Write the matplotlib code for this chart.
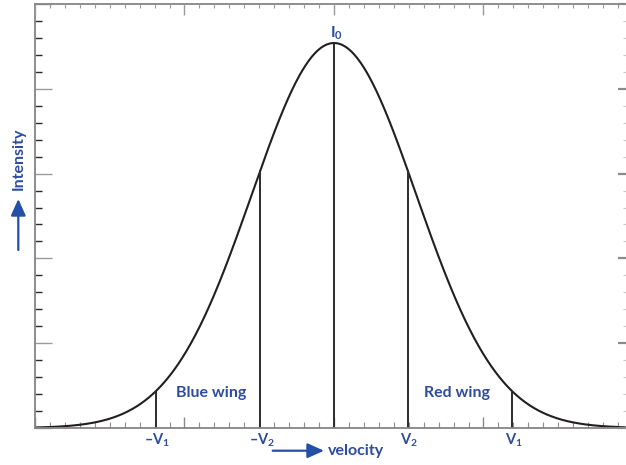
import numpy as np
import matplotlib
matplotlib.use("Agg")
import matplotlib.pyplot as plt
from matplotlib.ticker import MultipleLocator

# ---------------- data ----------------
peak_intensity = 22.7          # I0, in minor-tick units of the intensity axis
profile_sigma = 5.5            # Gaussian width of the line profile
line_center = 0.0              # rest velocity
marker_velocities = [-11.93, -4.93, 4.93, 11.93]
marker_labels = [r"$\mathrm{–V}_1$", r"$\mathrm{–V}_2$", r"$\mathrm{V}_2$", r"$\mathrm{V}_1$"]
wing_labels = ["Blue wing", "Red wing"]
wing_label_x = [-8.2, 8.25]
wing_label_y = [2.06, 2.06]
peak_label = r"$\mathrm{I}_0$"
x_label = "velocity"
y_label = "Intensity"
x_limits = (-20, 19.5)
y_limits = (0, 25)

# ---------------- style ----------------
BLUE = "#2d4c9c"
ARROW_BLUE = "#2350a6"
INK = "#231f20"
SPINE = "#858585"

plt.rcParams["font.family"] = ["Lato", "DejaVu Sans"]
plt.rcParams["font.weight"] = "bold"
plt.rcParams["mathtext.fontset"] = "custom"
plt.rcParams["mathtext.rm"] = "Lato:bold"
plt.rcParams["mathtext.it"] = "Lato:bold"
plt.rcParams["mathtext.bf"] = "Lato:bold"

W, H = 626, 465
fig = plt.figure(figsize=(W / 100, H / 100), dpi=100)
ax = fig.add_axes([35 / W, 1 - 428 / H, (625.5 - 35) / W, (428 - 4) / H])


def profile(v):
    v = np.asarray(v, dtype=float)
    return peak_intensity * np.exp(-0.5 * ((v - line_center) / profile_sigma) ** 2)


v = np.linspace(x_limits[0], x_limits[1], 800)
ax.plot(v, profile(v), color=INK, lw=1.5, solid_capstyle="butt")
ax.vlines(marker_velocities, 0, profile(marker_velocities), color="#2b2b2b", lw=1.4)
ax.vlines([line_center], 0, profile([line_center]), color="#2b2b2b", lw=1.4)

ax.set_xlim(*x_limits)
ax.set_ylim(*y_limits)

# spines
for s in ["left", "bottom", "top"]:
    ax.spines[s].set_color(SPINE)
    ax.spines[s].set_linewidth(1.3)
ax.spines["right"].set_visible(False)

# bottom / left ticks
ax.xaxis.set_major_locator(MultipleLocator(10))
ax.xaxis.set_minor_locator(MultipleLocator(1))
ax.yaxis.set_major_locator(MultipleLocator(5))
ax.yaxis.set_minor_locator(MultipleLocator(1))
ax.tick_params(axis="x", which="major", direction="in", length=8, width=1.0, color="#8a8a8a",
               labelbottom=False, top=False)
ax.tick_params(axis="x", which="minor", direction="in", length=4, width=0.8, color="#8f8f8f", top=False)
ax.tick_params(axis="y", which="major", direction="in", length=12, width=1.0, color="#9a9a9a",
               labelleft=False, right=False)
ax.tick_params(axis="y", which="minor", direction="in", length=5, width=1.0, color="#2a2a2a", right=False)

# top ticks
axt = ax.twiny()
axt.set_xlim(*x_limits)
axt.xaxis.set_major_locator(MultipleLocator(10))
axt.xaxis.set_minor_locator(MultipleLocator(1))
axt.tick_params(axis="x", which="major", direction="in", length=8, width=1.0, color="#9a9a9a",
                labeltop=False)
axt.tick_params(axis="x", which="minor", direction="in", length=3, width=0.8, color="#9a9a9a")
for s in axt.spines.values():
    s.set_visible(False)

# right ticks
axr = ax.twinx()
axr.set_ylim(*y_limits)
axr.yaxis.set_major_locator(MultipleLocator(5))
axr.yaxis.set_minor_locator(MultipleLocator(1))
axr.tick_params(axis="y", which="major", direction="in", length=6, width=1.6, color="#8a8a8a",
                labelright=False)
axr.tick_params(axis="y", which="minor", direction="in", length=2, width=0.8, color="#c8c8c8")
for s in axr.spines.values():
    s.set_visible(False)

# labels in plot
for lab, x, y in zip(wing_labels, wing_label_x, wing_label_y):
    ax.text(x, y, lab, color=BLUE, fontsize=11.5, fontweight="bold", ha="center", va="center")

for lab, x in zip(marker_labels, marker_velocities):
    ax.annotate(lab, xy=(x, 0), xycoords=("data", "axes fraction"), xytext=(1, -12.3),
                textcoords="offset points", ha="center", va="baseline", color=BLUE, fontsize=10.5)

ax.annotate(peak_label, xy=(line_center, peak_intensity), xytext=(2, 4), textcoords="offset points",
            ha="center", va="baseline", color=BLUE, fontsize=11.5)

# axis labels with arrows
fig.text(18.3 / W, 1 - 159 / H, y_label, rotation=90, color=BLUE, fontsize=11.5,
         fontweight="bold", ha="center", va="center")
fig.patches.append(matplotlib.patches.FancyArrowPatch(
    (18.3 / W, 1 - 250 / H), (18.3 / W, 1 - 199 / H), transform=fig.transFigure,
    arrowstyle="-|>,head_length=1.0,head_width=0.45", mutation_scale=10,
    color=ARROW_BLUE, lw=1.6, shrinkA=0, shrinkB=0))

fig.text(328 / W, 1 - 455 / H, x_label, color=BLUE, fontsize=11.5, fontweight="bold",
         ha="left", va="baseline")
fig.patches.append(matplotlib.patches.FancyArrowPatch(
    (272.7 / W, 1 - 450.7 / H), (324 / W, 1 - 450.7 / H), transform=fig.transFigure,
    arrowstyle="-|>,head_length=1.0,head_width=0.45", mutation_scale=10,
    color=ARROW_BLUE, lw=1.6, shrinkA=0, shrinkB=0))

fig.savefig("out.png", dpi=100)
